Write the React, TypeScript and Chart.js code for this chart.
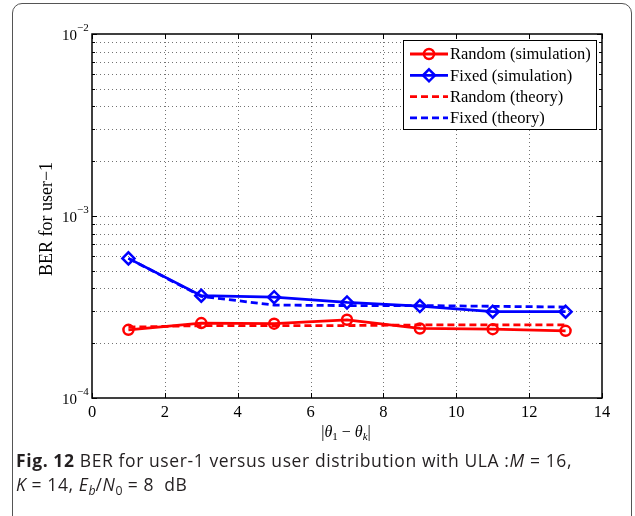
import React, { useEffect, useRef } from 'react';
import { Chart, registerables } from 'chart.js';

Chart.register(...registerables);

// ---- data ----
const xValues = [1, 3, 5, 7, 9, 11, 13];
const randomSim = [2.37e-4, 2.58e-4, 2.56e-4, 2.69e-4, 2.41e-4, 2.39e-4, 2.34e-4];
const fixedSim = [5.85e-4, 3.65e-4, 3.58e-4, 3.35e-4, 3.2e-4, 2.98e-4, 2.98e-4];
const randomTheory = [2.45e-4, 2.5e-4, 2.5e-4, 2.5e-4, 2.52e-4, 2.52e-4, 2.52e-4];
const fixedTheory = [5.85e-4, 3.62e-4, 3.24e-4, 3.22e-4, 3.22e-4, 3.19e-4, 3.16e-4];
const seriesLabels = ['Random (simulation)', 'Fixed (simulation)', 'Random (theory)', 'Fixed (theory)'];
const xTicks = [0, 2, 4, 6, 8, 10, 12, 14];
const yDecades = [-4, -3, -2];
const yMinorMultipliers = [2, 3, 4, 5, 6, 7, 8, 9];
const yTitle = 'BER for user−1';

const RED = '#ff0000';
const BLUE = '#0000ff';
const SERIF = '"Liberation Serif", "Times New Roman", serif';

function toPoints(ys: number[]) {
  return xValues.map((x, i) => ({ x, y: ys[i] }));
}

function drawMarker(ctx: CanvasRenderingContext2D, style: string, x: number, y: number, r: number) {
  ctx.beginPath();
  if (style === 'circle') {
    ctx.arc(x, y, r, 0, Math.PI * 2);
  } else if (style === 'rectRot') {
    ctx.moveTo(x, y - r);
    ctx.lineTo(x + r, y);
    ctx.lineTo(x, y + r);
    ctx.lineTo(x - r, y);
    ctx.closePath();
  }
  ctx.stroke();
}

const axesPlugin = {
  id: 'matlabAxes',
  beforeDatasetsDraw(chart: any) {
    const { ctx, chartArea: a, scales } = chart;
    const xs = scales.x;
    const ys = scales.y;
    ctx.save();
    ctx.strokeStyle = 'rgba(0,0,0,0.55)';
    ctx.lineWidth = 1;
    ctx.setLineDash([1, 3]);
    xTicks.forEach((t) => {
      if (t <= xs.min || t >= xs.max) return;
      const px = Math.round(xs.getPixelForValue(t)) + 0.5;
      ctx.beginPath();
      ctx.moveTo(px, a.top);
      ctx.lineTo(px, a.bottom);
      ctx.stroke();
    });
    yDecades.forEach((d) => {
      [1, ...yMinorMultipliers].forEach((m) => {
        const v = m * Math.pow(10, d);
        if (v <= ys.min * 1.0001 || v >= ys.max * 0.9999) return;
        const py = Math.round(ys.getPixelForValue(v)) + 0.5;
        ctx.beginPath();
        ctx.moveTo(a.left, py);
        ctx.lineTo(a.right, py);
        ctx.stroke();
      });
    });
    ctx.restore();
  },
  afterDatasetsDraw(chart: any) {
    const { ctx, chartArea: a, scales } = chart;
    const xs = scales.x;
    const ys = scales.y;
    ctx.save();
    ctx.setLineDash([]);
    ctx.strokeStyle = '#000';
    ctx.lineWidth = 1;
    // inward ticks
    xTicks.forEach((t) => {
      const px = Math.round(xs.getPixelForValue(t)) + 0.5;
      ctx.beginPath();
      ctx.moveTo(px, a.bottom);
      ctx.lineTo(px, a.bottom - 5);
      ctx.moveTo(px, a.top);
      ctx.lineTo(px, a.top + 5);
      ctx.stroke();
    });
    yDecades.forEach((d) => {
      [1, ...yMinorMultipliers].forEach((m) => {
        const v = m * Math.pow(10, d);
        if (v < ys.min * 0.9999 || v > ys.max * 1.0001) return;
        const len = m === 1 ? 5 : 3;
        const py = Math.round(ys.getPixelForValue(v)) + 0.5;
        ctx.beginPath();
        ctx.moveTo(a.left, py);
        ctx.lineTo(a.left + len, py);
        ctx.moveTo(a.right, py);
        ctx.lineTo(a.right - len, py);
        ctx.stroke();
      });
    });
    // axes box
    ctx.lineWidth = 1.5;
    ctx.strokeRect(a.left, a.top, a.right - a.left, a.bottom - a.top);

    // x tick labels
    ctx.fillStyle = '#000';
    ctx.font = `16.5px ${SERIF}`;
    ctx.textAlign = 'center';
    ctx.textBaseline = 'alphabetic';
    xTicks.forEach((t) => {
      const px = xs.getPixelForValue(t);
      ctx.fillText(String(t), px, a.bottom + 19);
    });

    // y tick labels 10^d
    yDecades.forEach((d) => {
      const py = ys.getPixelForValue(Math.pow(10, d));
      ctx.font = `15px ${SERIF}`;
      ctx.textAlign = 'right';
      ctx.fillText('10', a.left - 15, py + 6);
      ctx.font = `11px ${SERIF}`;
      ctx.textAlign = 'left';
      ctx.fillText('−' + String(-d), a.left - 15, py - 3);
    });

    // y title
    ctx.save();
    ctx.translate(47, (a.top + a.bottom) / 2 + 3);
    ctx.rotate(-Math.PI / 2);
    ctx.font = `18px ${SERIF}`;
    ctx.textAlign = 'center';
    ctx.textBaseline = 'middle';
    ctx.fillText(yTitle, 0, 0);
    ctx.restore();

    // x title |θ1 − θk|
    const parts: { t: string; f: string; dy: number }[] = [
      { t: '|', f: `16px ${SERIF}`, dy: 0 },
      { t: 'θ', f: `italic 16px ${SERIF}`, dy: 0 },
      { t: '1', f: `11px ${SERIF}`, dy: 3 },
      { t: ' − ', f: `16px ${SERIF}`, dy: 0 },
      { t: 'θ', f: `italic 16px ${SERIF}`, dy: 0 },
      { t: 'k', f: `italic 11px ${SERIF}`, dy: 3 },
      { t: '|', f: `16px ${SERIF}`, dy: 0 },
    ];
    let total = 0;
    const widths = parts.map((p) => {
      ctx.font = p.f;
      const w = ctx.measureText(p.t).width;
      total += w;
      return w;
    });
    let cx = (a.left + a.right) / 2 - total / 2 - 1;
    ctx.textAlign = 'left';
    parts.forEach((p, i) => {
      ctx.font = p.f;
      ctx.fillText(p.t, cx, a.bottom + 39 + p.dy);
      cx += widths[i];
    });

    // legend
    const lx = 403;
    const ly = 40;
    const lw = 193;
    const lh = 89;
    ctx.fillStyle = '#fff';
    ctx.fillRect(lx, ly, lw, lh);
    ctx.strokeStyle = '#000';
    ctx.lineWidth = 1;
    ctx.strokeRect(lx + 0.5, ly + 0.5, lw, lh);
    chart.data.datasets.forEach((ds: any, i: number) => {
      const rowY = ly + 14 + i * 21.3;
      ctx.save();
      ctx.strokeStyle = ds.borderColor;
      ctx.lineWidth = ds.borderWidth;
      ctx.setLineDash(ds.borderDash || []);
      ctx.beginPath();
      ctx.moveTo(lx + 7, rowY);
      ctx.lineTo(lx + 45, rowY);
      ctx.stroke();
      ctx.setLineDash([]);
      if (ds.pointRadius > 0) {
        ctx.lineWidth = ds.pointBorderWidth;
        drawMarker(ctx, ds.pointStyle, lx + 26, rowY, ds.pointRadius);
      }
      ctx.restore();
      ctx.fillStyle = '#000';
      ctx.font = `16.5px ${SERIF}`;
      ctx.textAlign = 'left';
      ctx.textBaseline = 'middle';
      ctx.fillText(ds.label, lx + 47, rowY + 1);
    });
    ctx.restore();
  },
};

export default function App() {
  const canvasRef = useRef<HTMLCanvasElement | null>(null);

  useEffect(() => {
    if (!canvasRef.current) return;
    const chart = new Chart(canvasRef.current, {
      type: 'line',
      data: {
        datasets: [
          {
            label: seriesLabels[0],
            data: toPoints(randomSim),
            borderColor: RED,
            backgroundColor: 'transparent',
            borderWidth: 2.8,
            pointStyle: 'circle',
            pointRadius: 5,
            pointBorderWidth: 2.5,
            pointBorderColor: RED,
            pointBackgroundColor: 'transparent',
            order: 3,
          },
          {
            label: seriesLabels[1],
            data: toPoints(fixedSim),
            borderColor: BLUE,
            backgroundColor: 'transparent',
            borderWidth: 2.8,
            pointStyle: 'rectRot',
            pointRadius: 6,
            pointBorderWidth: 2.5,
            pointBorderColor: BLUE,
            pointBackgroundColor: 'transparent',
            order: 4,
          },
          {
            label: seriesLabels[2],
            data: toPoints(randomTheory),
            borderColor: RED,
            backgroundColor: 'transparent',
            borderWidth: 2.8,
            borderDash: [7, 4],
            pointRadius: 0,
            order: 1,
          },
          {
            label: seriesLabels[3],
            data: toPoints(fixedTheory),
            borderColor: BLUE,
            backgroundColor: 'transparent',
            borderWidth: 2.8,
            borderDash: [7, 4],
            pointRadius: 0,
            order: 2,
          },
        ],
      },
      options: {
        responsive: false,
        animation: false,
        events: [],
        layout: { padding: { left: 92, right: 33, top: 34, bottom: 118 } },
        plugins: {
          legend: { display: false },
          tooltip: { enabled: false },
          title: { display: false },
        },
        scales: {
          x: { type: 'linear', min: 0, max: 14, display: false },
          y: { type: 'logarithmic', min: 1e-4, max: 1e-2, display: false },
        },
      },
      plugins: [axesPlugin],
    });
    return () => chart.destroy();
  }, []);

  const subStyle: React.CSSProperties = {
    fontSize: '0.7em',
    verticalAlign: 'baseline',
    position: 'relative',
    top: 4,
    letterSpacing: 0,
  };

  return (
    <div
      style={{
        position: 'fixed',
        left: 0,
        top: 0,
        width: 635,
        height: 516,
        overflow: 'hidden',
        background: '#fff',
      }}
    >
      <div
        style={{
          position: 'absolute',
          left: 12,
          top: 3,
          width: 620,
          height: 700,
          border: '1px solid #555',
          borderRadius: 10,
          boxSizing: 'border-box',
        }}
      />
      <canvas
        ref={canvasRef}
        width={635}
        height={516}
        style={{ position: 'absolute', left: 0, top: 0, width: 635, height: 516 }}
      />
      <div
        style={{
          position: 'absolute',
          left: 16,
          top: 448,
          fontFamily: '"Open Sans", "Noto Sans", sans-serif',
          fontSize: 17.5,
          letterSpacing: 0.6,
          lineHeight: '24px',
          color: '#231f20',
          whiteSpace: 'nowrap',
        }}
      >
        <b>Fig. 12</b> BER for user-1 versus user distribution with ULA :<i>M</i> = 16,
        <br />
        <i>K</i> = 14, <i>E</i>
        <sub style={{ ...subStyle, fontStyle: 'italic' }}>b</sub>/<i>N</i>
        <sub style={subStyle}>0</sub> = 8&nbsp; dB
      </div>
    </div>
  );
}
